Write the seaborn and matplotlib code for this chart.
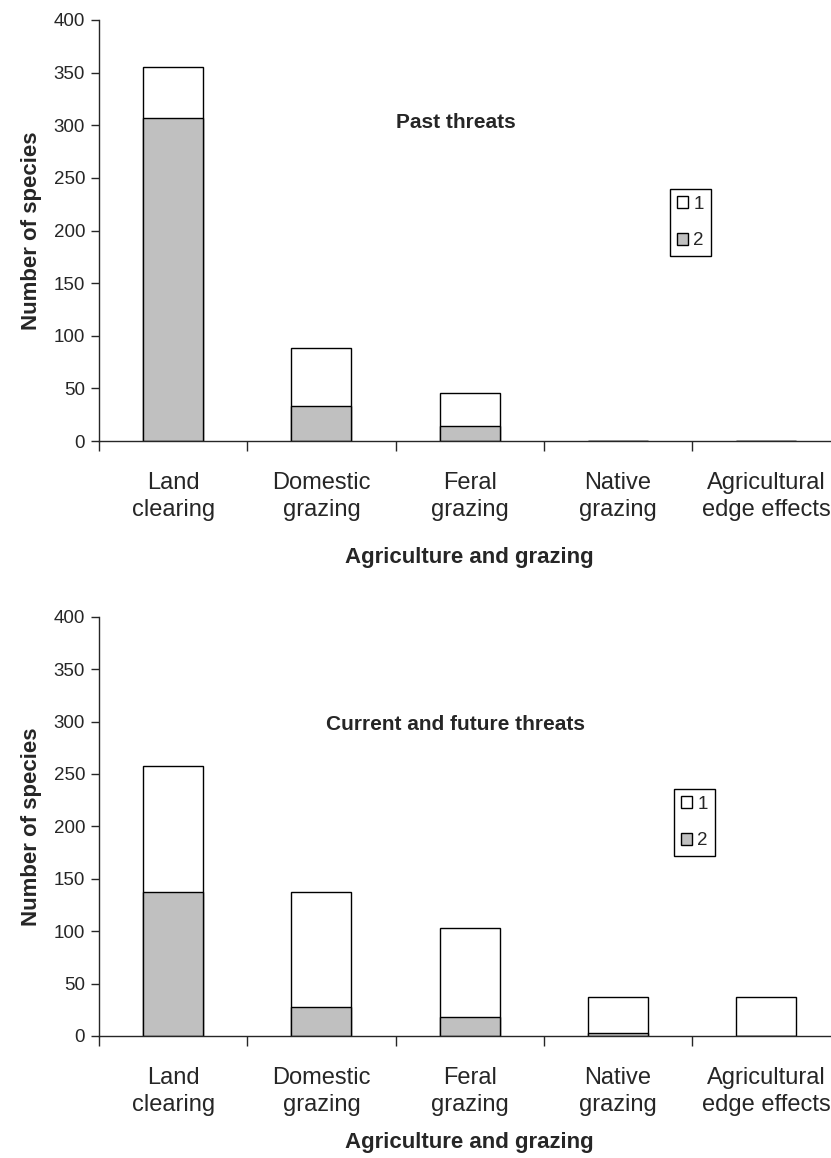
import pandas as pd
import matplotlib.pyplot as plt
import seaborn as sns
from matplotlib.patches import Patch

sns.set_style("ticks")
plt.rcParams['font.family'] = ['Liberation Sans', 'DejaVu Sans']

categories = ["Land\nclearing", "Domestic\ngrazing", "Feral\ngrazing",
              "Native\ngrazing", "Agricultural\nedge effects"]

# totals (1 + 2) and the grey part (2)
past_total = [355, 88, 46, 0, 0]
past_two = [307, 33, 14, 0, 0]
current_total = [258, 137, 103, 37, 37]
current_two = [137, 28, 18, 3, 0]

GREY = "#C0C0C0"
W, H = 831, 1158

fig = plt.figure(figsize=(W / 100, H / 100), dpi=100)


def draw_panel(ax, total, two, title, title_y, legend_xy, xlabel_pad):
    df = pd.DataFrame({"category": categories, "total": total, "two": two})
    sns.barplot(data=df, x="category", y="total", color="white", width=0.405,
                edgecolor="black", linewidth=1.0, saturation=1, ax=ax)
    sns.barplot(data=df, x="category", y="two", color=GREY, width=0.405,
                edgecolor="black", linewidth=1.0, saturation=1, ax=ax)
    ax.set_xlim(-0.5, 4.5)
    ax.set_ylim(0, 400)
    ax.set_yticks(range(0, 401, 50))
    ax.tick_params(axis="y", labelsize=13.5, length=6, width=1, pad=4)
    ax.set_xticks(range(len(categories)))
    ax.set_xticklabels(categories, fontsize=17, linespacing=1.3)
    ax.tick_params(axis="x", which="major", length=0, pad=22)
    ax.set_xticks([-0.5, 0.5, 1.5, 2.5, 3.5], minor=True)
    ax.tick_params(axis="x", which="minor", length=7, width=1, direction="out")
    for s in ["top", "right"]:
        ax.spines[s].set_visible(False)
    for s in ["left", "bottom"]:
        ax.spines[s].set_linewidth(1.0)
    ax.set_ylabel("Number of species", fontsize=16, fontweight="bold", labelpad=8)
    ax.set_xlabel("Agriculture and grazing", fontsize=16, fontweight="bold",
                  labelpad=xlabel_pad)
    fig.text(456 / W, 1 - title_y / H, title, fontsize=15, fontweight="bold",
             ha="center", va="center")
    handles = [Patch(facecolor="white", edgecolor="black", linewidth=1.0),
               Patch(facecolor=GREY, edgecolor="black", linewidth=1.0)]
    ax.legend(handles, ["1", "2"], loc="upper left",
              bbox_to_anchor=(legend_xy[0] / W, 1 - legend_xy[1] / H),
              bbox_transform=fig.transFigure, fontsize=13.5,
              handlelength=0.6, handleheight=0.6, handletextpad=0.3,
              labelspacing=1.05, borderpad=0.35, borderaxespad=0,
              fancybox=False, edgecolor="black", framealpha=1)
    ax.get_legend().get_frame().set_linewidth(1.0)


left = 99 / W
width = 741.5 / W
ax1 = fig.add_axes([left, 1 - 441 / H, width, 421 / H])
ax2 = fig.add_axes([left, 1 - 1036 / H, width, 419.3 / H])

draw_panel(ax1, past_total, past_two, "Past threats", 122, (670, 189), 19)
draw_panel(ax2, current_total, current_two, "Current and future threats", 725, (674, 789), 12)

fig.savefig("out.png", dpi=100)
